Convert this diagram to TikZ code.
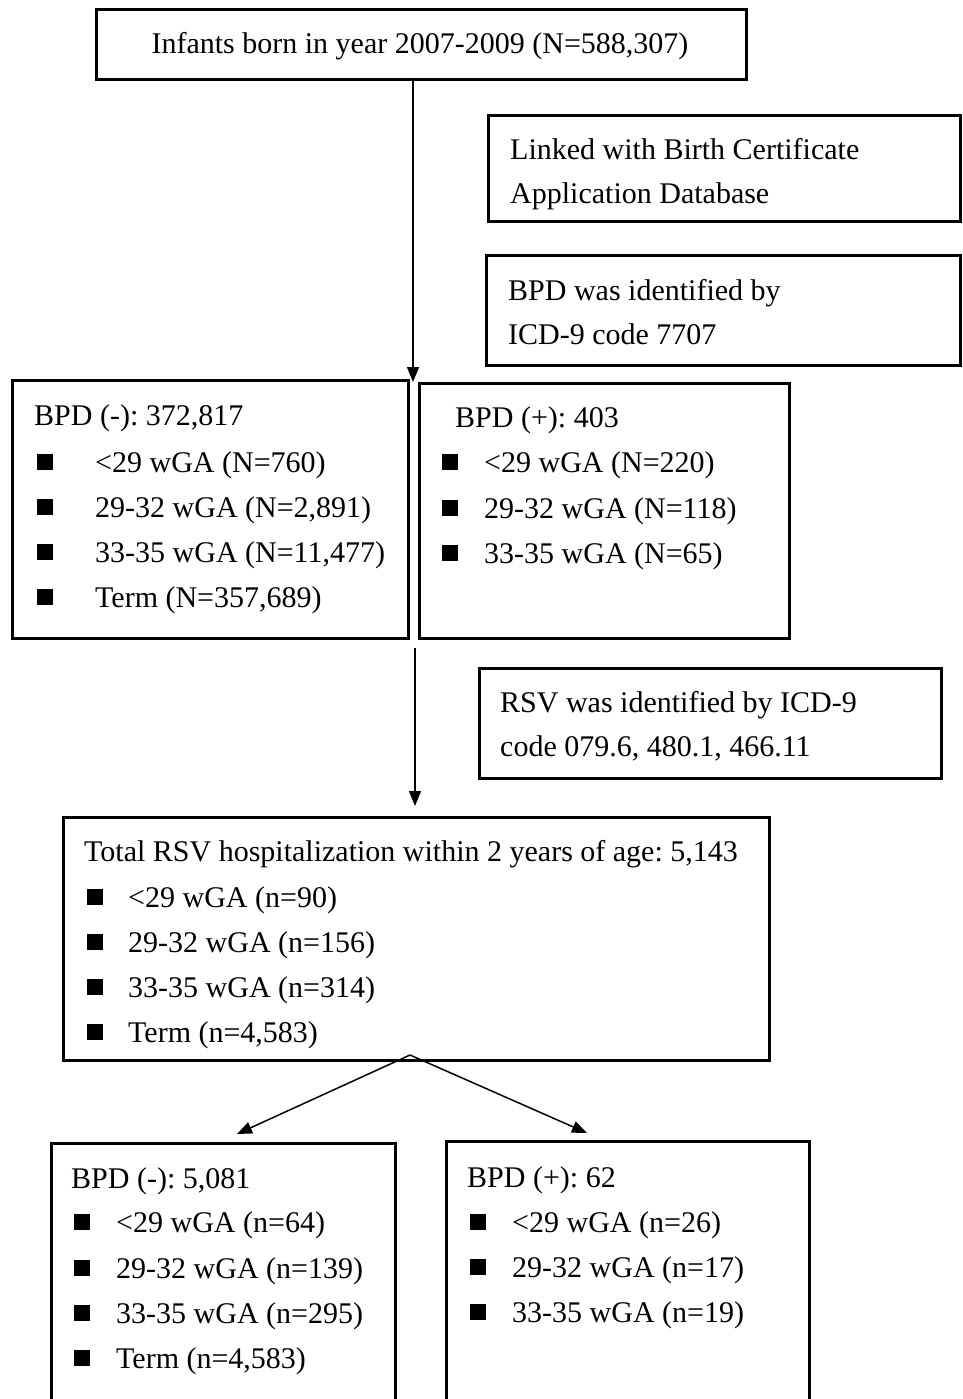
\documentclass[tikz,border=0pt]{standalone}
\usepackage{fontspec}
\setmainfont{Liberation Serif}
\usetikzlibrary{arrows.meta}
\frenchspacing
\tikzset{
  box/.style={draw=black, line width=3pt, inner sep=0pt, anchor=north west, fill=none},
  txt/.style={anchor=base west, inner sep=0pt, font=\fontsize{30}{36}\selectfont},
  blt/.style={fill=black, draw=none, inner sep=0pt, minimum width=16pt, minimum height=16pt, anchor=west},
  arr/.style={line width=1.5pt, -{Triangle[length=15pt,width=12pt]}}
}
\begin{document}
\begin{tikzpicture}[x=1pt,y=-1pt]
\useasboundingbox (0,0) rectangle (962,1399);
% boxes
\node[box, minimum width=650pt, minimum height=70pt] (top) at (95,8) {};
\node[box, minimum width=472pt, minimum height=106pt] (link) at (487,114) {};
\node[box, minimum width=474pt, minimum height=110pt] (bpdid) at (485,254) {};
\node[box, minimum width=396pt, minimum height=258pt] (neg1) at (11,379) {};
\node[box, minimum width=370pt, minimum height=255pt] (pos1) at (418,382) {};
\node[box, minimum width=462pt, minimum height=110pt] (rsv) at (478,667) {};
\node[box, minimum width=706pt, minimum height=243pt] (total) at (62,816) {};
\node[box, minimum width=344pt, minimum height=300pt] (neg2) at (50,1142) {};
\node[box, minimum width=363pt, minimum height=300pt] (pos2) at (445,1140) {};
% top text
\node[txt, anchor=base] (t0) at (420,54) {Infants born in year 2007-2009 (N=588,307)};
\node[txt] (l1) at (510,160) {Linked with Birth Certificate};
\node[txt] (l2) at (510,204) {Application Database};
\node[txt] (b1) at (508,300) {BPD was identified by};
\node[txt] (b2) at (508,344) {ICD-9 code 7707};
% BPD(-) first
\node[txt] (n0) at (34,425) {BPD (-): 372,817};
\node[blt] (nb1) at (37,462) {}; \node[txt] (n1) at (95,472) {<29 wGA (N=760)};
\node[blt] (nb2) at (37,507) {}; \node[txt] (n2) at (95,517) {29-32 wGA (N=2,891)};
\node[blt] (nb3) at (37,552) {}; \node[txt] (n3) at (95,562) {33-35 wGA (N=11,477)};
\node[blt] (nb4) at (37,597) {}; \node[txt] (n4) at (95,607) {Term (N=357,689)};
% BPD(+) first
\node[txt] (p0) at (455,427) {BPD (+): 403};
\node[blt] (pb1) at (442,462) {}; \node[txt] (p1) at (484,472) {<29 wGA (N=220)};
\node[blt] (pb2) at (442,508) {}; \node[txt] (p2) at (484,518) {29-32 wGA (N=118)};
\node[blt] (pb3) at (442,553) {}; \node[txt] (p3) at (484,563) {33-35 wGA (N=65)};
% RSV
\node[txt] (r1) at (500,712) {RSV was identified by ICD-9};
\node[txt] (r2) at (500,756) {code 079.6, 480.1, 466.11};
% total
\node[txt] (s0) at (84,861) {Total RSV hospitalization within 2 years of age: 5,143};
\node[blt] (sb1) at (87,897) {}; \node[txt] (s1) at (128,907) {<29 wGA (n=90)};
\node[blt] (sb2) at (87,942) {}; \node[txt] (s2) at (128,952) {29-32 wGA (n=156)};
\node[blt] (sb3) at (87,987) {}; \node[txt] (s3) at (128,997) {33-35 wGA (n=314)};
\node[blt] (sb4) at (87,1032) {}; \node[txt] (s4) at (128,1042) {Term (n=4,583)};
% BPD(-) second
\node[txt] (m0) at (71,1188) {BPD (-): 5,081};
\node[blt] (mb1) at (74,1222) {}; \node[txt] (m1) at (116,1232) {<29 wGA (n=64)};
\node[blt] (mb2) at (74,1268) {}; \node[txt] (m2) at (116,1278) {29-32 wGA (n=139)};
\node[blt] (mb3) at (74,1313) {}; \node[txt] (m3) at (116,1323) {33-35 wGA (n=295)};
\node[blt] (mb4) at (74,1358) {}; \node[txt] (m4) at (116,1368) {Term (n=4,583)};
% BPD(+) second
\node[txt] (q0) at (467,1187) {BPD (+): 62};
\node[blt] (qb1) at (470,1222) {}; \node[txt] (q1) at (512,1232) {<29 wGA (n=26)};
\node[blt] (qb2) at (470,1267) {}; \node[txt] (q2) at (512,1277) {29-32 wGA (n=17)};
\node[blt] (qb3) at (470,1312) {}; \node[txt] (q3) at (512,1322) {33-35 wGA (n=19)};
% connectors
\coordinate (c1s) at (413,78);
\coordinate (c1e) at (413,382);
\coordinate (c2s) at (415,648);
\coordinate (c2e) at (415,806);
\coordinate (c3s) at (410,1055);
\coordinate (c3e) at (237,1134);
\coordinate (c4e) at (587,1133);
\draw[arr] (c1s) -- (c1e);
\draw[arr] (c2s) -- (c2e);
\draw[arr] (c3s) -- (c3e);
\draw[arr] (c3s) -- (c4e);
\end{tikzpicture}
\end{document}
